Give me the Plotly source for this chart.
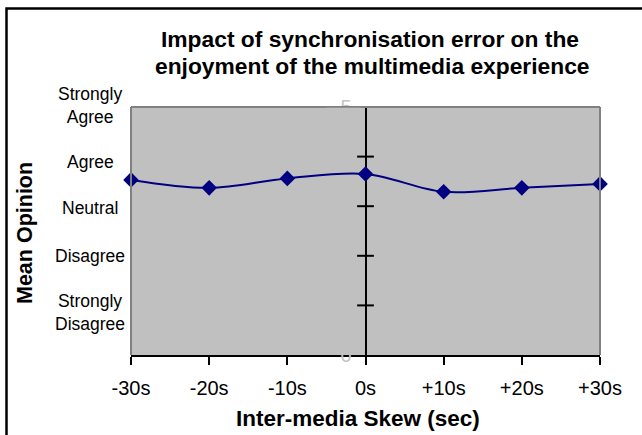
import plotly.graph_objects as go

# ---- data ----
skew_seconds = [-30, -20, -10, 0, 10, 20, 30]
skew_labels = ["-30s", "-20s", "-10s", "0s", "+10s", "+20s", "+30s"]
mean_opinion = [3.53, 3.37, 3.56, 3.65, 3.29, 3.37, 3.45]
opinion_levels = [5, 4, 3, 2, 1]
opinion_labels = ["Strongly<br>Agree", "Agree", "Neutral", "Disagree", "Strongly<br>Disagree"]
opinion_label_shift = [2, -5, -2, 0, -7]   # pixel nudges of the hand-placed labels
axis_ticks = [0, 1, 2, 3, 4, 5]

FONT = "Liberation Sans, Arial, sans-serif"
W, H = 642, 435
L, R, T, B = 131, 600, 107, 355  # plot area pixels

def px(x):
    return (x - L) / (R - L)

def py(y):
    return (B - y) / (B - T)

fig = go.Figure()

# cross ticks on the vertical axis at 0s
fig.add_trace(go.Scatter(
    x=[0] * (len(axis_ticks) - 1), y=axis_ticks[1:], mode="markers",
    marker=dict(symbol="line-ew", size=12, line=dict(color="black", width=2)),
    hoverinfo="skip", showlegend=False, cliponaxis=False,
))

fig.add_trace(go.Scatter(
    x=skew_seconds, y=mean_opinion, mode="lines+markers",
    line=dict(color="#000080", width=2, shape="spline"),
    marker=dict(symbol="diamond", size=12, color="#000080"),
    cliponaxis=False, showlegend=False,
))

# invisible trace to activate the faint second y axis
fig.add_trace(go.Scatter(x=[0], y=[0], yaxis="y2", mode="markers",
                         marker=dict(opacity=0), hoverinfo="skip", showlegend=False))

fig.update_layout(
    width=W, height=H,
    margin=dict(l=L, r=W - R, t=T, b=H - B),
    paper_bgcolor="white",
    plot_bgcolor="#C0C0C0",
    font=dict(family=FONT, color="black"),
    xaxis=dict(
        range=[-30, 30], tickvals=skew_seconds, ticktext=skew_labels,
        showgrid=False, zeroline=True, zerolinecolor="black", zerolinewidth=2,
        showline=True, linecolor="black", linewidth=2,
        ticks="outside", ticklen=8, tickwidth=2, tickcolor="black",
        ticklabelstandoff=6,
        tickfont=dict(size=20, family=FONT),
    ),
    yaxis=dict(
        range=[0, 5], showgrid=False, zeroline=False, showticklabels=False,
        showline=False, ticks="",
    ),
    yaxis2=dict(
        overlaying="y", anchor="free", position=0.5, side="left",
        range=[0, 5], tickvals=[0, 5], ticktext=["0", "5"],
        showgrid=False, zeroline=False, showline=False,
        ticks="outside", ticklen=10, tickcolor="rgba(0,0,0,0)",
        tickfont=dict(size=20, color="#c4c4c4", family=FONT),
    ),
)

shapes = [
    # outer chart border
    dict(type="rect", xref="paper", yref="paper",
         x0=px(6.5), x1=px(660), y0=py(460), y1=py(8.5),
         line=dict(color="black", width=2.5), fillcolor="rgba(0,0,0,0)", layer="above"),
    # plot-area grey frame
    dict(type="line", xref="paper", yref="paper", x0=0, x1=0, y0=0, y1=1,
         line=dict(color="#808080", width=2)),
    dict(type="line", xref="paper", yref="paper", x0=0, x1=1, y0=1, y1=1,
         line=dict(color="#808080", width=2)),
    dict(type="line", xref="paper", yref="paper", x0=1, x1=1, y0=0, y1=1,
         line=dict(color="#808080", width=2)),
    # plot area hiding the inner part of the faint axis labels
    dict(type="rect", xref="x", yref="y", x0=-5, x1=-0.6, y0=4.55, y1=4.985,
         line=dict(width=0), fillcolor="#C0C0C0", layer="above"),
    dict(type="rect", xref="x", yref="y", x0=-5, x1=-0.6, y0=0.03, y1=0.45,
         line=dict(width=0), fillcolor="#C0C0C0", layer="above"),
]
fig.update_layout(shapes=shapes)

annotations = [
    dict(text="<b>Impact of synchronisation error on the</b>", x=px(370), y=py(39),
         xref="paper", yref="paper", showarrow=False, xanchor="center", yanchor="middle",
         font=dict(size=22.8, family=FONT)),
    dict(text="<b>enjoyment of the multimedia experience</b>", x=px(372), y=py(66),
         xref="paper", yref="paper", showarrow=False, xanchor="center", yanchor="middle",
         font=dict(size=22.8, family=FONT)),
    dict(text="<b>Mean Opinion</b>", x=px(25), y=py(233), textangle=-90,
         xref="paper", yref="paper", showarrow=False, xanchor="center", yanchor="middle",
         font=dict(size=21.5, family=FONT)),
    dict(text="<b>Inter-media Skew (sec)</b>", x=px(358), y=py(418),
         xref="paper", yref="paper", showarrow=False, xanchor="center", yanchor="middle",
         font=dict(size=22.5, family=FONT)),
]
for lvl, lab, sh in zip(opinion_levels, opinion_labels, opinion_label_shift):
    annotations.append(dict(
        text=lab, x=px(90), y=lvl, xref="paper", yref="y", yshift=sh,
        showarrow=False, xanchor="center", yanchor="middle", align="center",
        font=dict(size=17.5, family=FONT)))
fig.update_layout(annotations=annotations)

fig.write_html("out.html", config={"displayModeBar": False},
               post_script="document.body.style.margin='0px';")
